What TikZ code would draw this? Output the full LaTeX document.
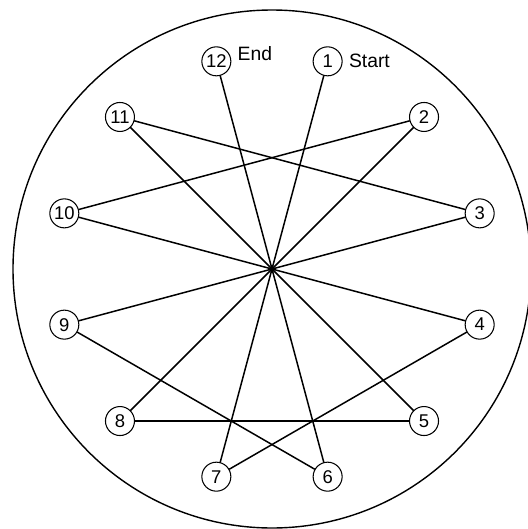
\documentclass[tikz,border=0pt]{standalone}
\usepackage{fontspec}
\setmainfont{Liberation Sans}
\usepackage{tikz}
\usetikzlibrary{positioning}

\begin{document}
\begin{tikzpicture}[
    stop/.style={circle, draw, line width=0.6pt, minimum size=0.58cm, inner sep=0pt, fill=white, font=\fontsize{10.5}{12}\selectfont},
    route/.style={line width=0.85pt, line cap=round},
    tag/.style={inner sep=0pt, anchor=west, font=\fontsize{11}{13}\selectfont}]
  \useasboundingbox (-5.44,-5.20) rectangle (5.12,5.38);
  \draw[line width=0.8pt] (0,0) circle (5.18);
  \coordinate (hub) at (0,0);
  % stops on the ring
  \node[stop] (n1) at (75:4.3) {1};
  \node[stop] (n2) at (45:4.3) {2};
  \node[stop] (n3) at (15:4.3) {3};
  \node[stop] (n4) at (-15:4.3) {4};
  \node[stop] (n5) at (-45:4.3) {5};
  \node[stop] (n6) at (-75:4.3) {6};
  \node[stop] (n7) at (-105:4.3) {7};
  \node[stop] (n8) at (-135:4.3) {8};
  \node[stop] (n9) at (-165:4.3) {9};
  \node[stop] (n10) at (165:4.3) {10};
  \node[stop] (n11) at (135:4.3) {11};
  \node[stop] (n12) at (105:4.3) {12};
  \node[tag, right=0.12cm of n1] (start) {Start};
  \node[tag, right=0.12cm of n12, yshift=0.16cm] (finish) {End};
  % spokes to the hub
  \foreach \s in {1,...,12}
    \draw[route] (n\s) -- (hub);
  % chords
  \draw[route] (n2) -- (n10);
  \draw[route] (n3) -- (n11);
  \draw[route] (n4) -- (n7);
  \draw[route] (n5) -- (n8);
  \draw[route] (n6) -- (n9);
\end{tikzpicture}
\end{document}
